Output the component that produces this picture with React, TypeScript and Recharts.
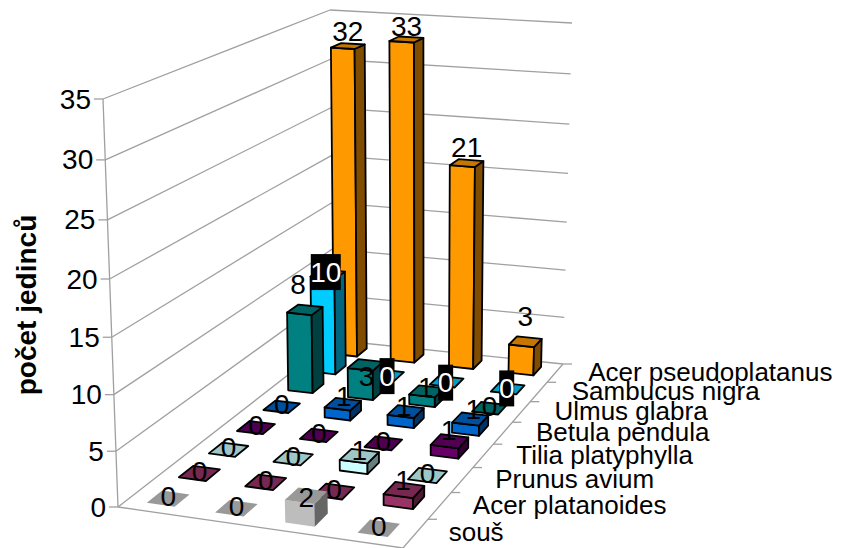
import { Scatter, ScatterChart, XAxis, YAxis } from 'recharts'

const WIDTH = 850
const HEIGHT = 548
const FONT = '"Liberation Sans", Arial, sans-serif'

// rows run from the front of the floor to the back
const rowNames = [
  'souš',
  'Acer platanoides',
  'Prunus avium',
  'Tilia platyphylla',
  'Betula pendula',
  'Ulmus glabra',
  'Sambucus nigra',
  'Acer pseudoplatanus',
]

const sous = [0, 0, 2, 0]
const acerPlatanoides = [0, 0, 0, 1]
const prunusAvium = [0, 0, 1, 0]
const tiliaPlatyphylla = [0, 0, 0, 1]
const betulaPendula = [0, 1, 1, 1]
const ulmusGlabra = [8, 3, 1, 0]
const sambucusNigra = [10, 0, 0, 0]
const acerPseudoplatanus = [32, 33, 21, 3]

const rowValues = [
  sous,
  acerPlatanoides,
  prunusAvium,
  tiliaPlatyphylla,
  betulaPendula,
  ulmusGlabra,
  sambucusNigra,
  acerPseudoplatanus,
]

const valueTicks = [0, 5, 10, 15, 20, 25, 30, 35]
const axisTitle = 'počet jedinců'

const COLUMN_COUNT = 4
const VALUE_MAX = 35

// front, top and side colours of each row
const frontColors = ['#bdbdbd', '#993366', '#ccffff', '#660066', '#0066cc', '#008080', '#00ccff', '#ff9900']
const topColors = ['#999999', '#772850', '#9fc6c6', '#4f0050', '#004f9f', '#006363', '#009fc6', '#c67700']
const sideColors = ['#666666', '#4c1933', '#668080', '#330033', '#003366', '#004040', '#006680', '#7f4c00']

type Pt = [number, number]
type Quad = [Pt, Pt, Pt, Pt]

// corners in the order front-left, front-right, back-right, back-left
const floorQuad: Quad = [[118, 507], [403, 548], [563, 364], [333, 340]]
const ceilingQuad: Quad = [[103, 99], [403, 126], [572, 23], [330, 10]]

function makeHomography([a, b, c, d]: Quad) {
  const dx1 = b[0] - c[0]
  const dx2 = d[0] - c[0]
  const sx = a[0] - b[0] + c[0] - d[0]
  const dy1 = b[1] - c[1]
  const dy2 = d[1] - c[1]
  const sy = a[1] - b[1] + c[1] - d[1]
  const den = dx1 * dy2 - dx2 * dy1
  const g = (sx * dy2 - dx2 * sy) / den
  const h = (dx1 * sy - sx * dy1) / den
  return (u: number, v: number): Pt => {
    const w = g * u + h * v + 1
    return [
      ((b[0] - a[0] + g * b[0]) * u + (d[0] - a[0] + h * d[0]) * v + a[0]) / w,
      ((b[1] - a[1] + g * b[1]) * u + (d[1] - a[1] + h * d[1]) * v + a[1]) / w,
    ]
  }
}

const onFloor = makeHomography(floorQuad)
const onCeiling = makeHomography(ceilingQuad)

// u along the columns, v into the depth, value on the vertical axis
function project(u: number, v: number, value: number): Pt {
  const w = value / VALUE_MAX
  const t = (0.95 * w) / (1 - 0.05 * w)
  const p0 = onFloor(u, v)
  const p1 = onCeiling(u, v)
  return [p0[0] + (p1[0] - p0[0]) * t, p0[1] + (p1[1] - p0[1]) * t]
}

const BAR_U = 0.41 / COLUMN_COUNT
const BAR_V = 0.47 / rowNames.length

// label offsets that do not follow the usual spot above the bar, as [dx, dy] by row and column
const labelShift: Record<string, Pt> = {
  '0-2': [0, 2],
  '1-3': [-1, -9],
  '2-2': [0, -6],
  '3-3': [-1, -11],
  '4-1': [1, -8],
  '4-2': [-2, -5],
  '4-3': [3, -10],
  '5-0': [-7, -25],
  '5-1': [1, 12],
  '5-2': [-1, -4],
  '6-0': [-2, -2],
  '6-1': [0, 1],
  '6-2': [-1, 1],
  '6-3': [-1, 0],
  '7-0': [0, -15],
  '7-1': [0, -13],
  '7-2': [0, -16],
  '7-3': [0, -25],
}

type BarPoint = { col: number; row: number; value: number; rowIndex: number; colIndex: number }

const barRows: BarPoint[][] = rowValues.map((values, rowIndex) =>
  values.map((value, colIndex) => ({
    col: colIndex + 0.5,
    row: rowIndex + 0.5,
    value,
    rowIndex,
    colIndex,
  })),
)
const labelPoints = barRows.flat()
const drawOrder = rowNames.map((_, i) => rowNames.length - 1 - i)

const toPath = (pts: Pt[]) =>
  'M' + pts.map((p) => `${p[0].toFixed(1)},${p[1].toFixed(1)}`).join('L') + 'Z'

// the axis scales hand over cx/cy in plot pixels, which become floor fractions here
function floorCentre(cx: number, cy: number): Pt {
  return [cx / WIDTH, 1 - cy / HEIGHT]
}

function BarPrism(props: any) {
  const { cx, cy, payload } = props
  const [uc, vc] = floorCentre(cx, cy)
  const { value, rowIndex } = payload as BarPoint
  const u0 = uc - BAR_U / 2
  const u1 = uc + BAR_U / 2
  const v0 = vc - BAR_V / 2
  const v1 = vc + BAR_V / 2
  const outline = rowIndex === 0 ? 'none' : '#000'
  const faceProps = { stroke: outline, strokeWidth: 1.8, strokeLinejoin: 'round' as const }
  const top = [project(u0, v0, value), project(u1, v0, value), project(u1, v1, value), project(u0, v1, value)]
  return (
    <g>
      {value > 0 && (
        <>
          <path
            d={toPath([project(u0, v0, 0), project(u1, v0, 0), top[1], top[0]])}
            fill={frontColors[rowIndex]}
            {...faceProps}
          />
          <path
            d={toPath([project(u1, v0, 0), project(u1, v1, 0), top[2], top[1]])}
            fill={sideColors[rowIndex]}
            {...faceProps}
          />
        </>
      )}
      <path d={toPath(top)} fill={topColors[rowIndex]} {...faceProps} />
    </g>
  )
}

function ValueLabel(props: any) {
  const { cx, cy, payload } = props
  const [uc, vc] = floorCentre(cx, cy)
  const { value, rowIndex, colIndex } = payload as BarPoint
  const [x0, y0] = project(uc, vc, value)
  const [dx, dy] = labelShift[`${rowIndex}-${colIndex}`] ?? [0, -2]
  const x = x0 + dx
  const y = y0 + dy
  const inverted = rowIndex === 6
  const text = String(value)
  const boxW = text.length * 15
  return (
    <g>
      {inverted && <rect x={x - boxW / 2} y={y - 18} width={boxW} height={36} fill="#000" />}
      <text
        x={x}
        y={y}
        textAnchor="middle"
        dominantBaseline="central"
        fontFamily={FONT}
        fontSize={28}
        fill={inverted ? '#fff' : '#000'}
      >
        {text}
      </text>
    </g>
  )
}

// walls, floor edges, tick marks and the axis text
function Walls() {
  const grid = '#a0a0a0'
  const lineProps = { stroke: grid, strokeWidth: 1.3, fill: 'none' }
  const segment = (a: Pt, b: Pt, key: string) => (
    <line key={key} x1={a[0]} y1={a[1]} x2={b[0]} y2={b[1]} {...lineProps} />
  )
  return (
    <g>
      {valueTicks.map((tick) => {
        const front = project(0, 0, tick)
        const corner = project(0, 1, tick)
        const right = project(1, 1, tick)
        return (
          <g key={tick}>
            {segment([front[0] - 9, front[1]], front, 'tick')}
            {segment(front, corner, 'left')}
            {segment(corner, right, 'back')}
            <text
              x={front[0] - 12}
              y={front[1]}
              textAnchor="end"
              dominantBaseline="central"
              fontFamily={FONT}
              fontSize={28}
              fill="#000"
            >
              {tick}
            </text>
          </g>
        )
      })}
      {segment(project(0, 0, 0), project(0, 0, VALUE_MAX), 'axis')}
      {segment(project(0, 0, 0), project(1, 0, 0), 'front')}
      {segment(project(1, 0, 0), project(1, 1, 0), 'right')}
      {rowNames.map((name, i) => {
        const edge = project(1, (i + 1) / rowNames.length, 0)
        const mid = project(1, (i + 0.5) / rowNames.length, 0)
        return (
          <g key={name}>
            {segment(edge, [edge[0] + 9, edge[1]], 'tick')}
            <text
              x={mid[0] + 33}
              y={mid[1] - 1}
              dominantBaseline="central"
              fontFamily={FONT}
              fontSize={26}
              fill="#000"
            >
              {name}
            </text>
          </g>
        )
      })}
      <text
        transform="translate(26,305) rotate(-90)"
        textAnchor="middle"
        dominantBaseline="central"
        fontFamily={FONT}
        fontSize={28}
        fontWeight="bold"
        fill="#000"
      >
        {axisTitle}
      </text>
    </g>
  )
}

export default function App() {
  return (
    <div style={{ position: 'absolute', left: 0, top: 0, width: WIDTH, height: HEIGHT, overflow: 'hidden', background: '#fff' }}>
      <ScatterChart width={WIDTH} height={HEIGHT} margin={{ top: 0, right: 0, bottom: 0, left: 0 }}>
        <XAxis type="number" dataKey="col" domain={[0, COLUMN_COUNT]} hide />
        <YAxis type="number" dataKey="row" domain={[0, rowNames.length]} hide />
        <Walls />
        {drawOrder.map((rowIndex) => (
          <Scatter
            key={rowNames[rowIndex]}
            name={rowNames[rowIndex]}
            data={barRows[rowIndex]}
            shape={BarPrism}
            isAnimationActive={false}
          />
        ))}
        <Scatter name="labels" data={labelPoints} shape={ValueLabel} isAnimationActive={false} />
      </ScatterChart>
    </div>
  )
}
